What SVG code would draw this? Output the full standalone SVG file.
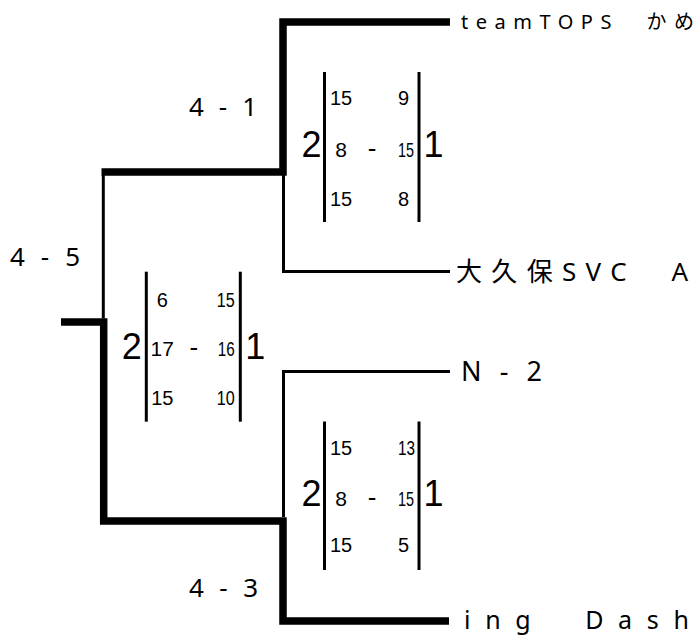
<svg xmlns="http://www.w3.org/2000/svg" width="696" height="638" viewBox="0 0 696 638">
<style>
.thick{fill:none;stroke:#000;stroke-width:7.5;stroke-linejoin:miter;stroke-linecap:butt}
.thin{fill:none;stroke:#000;stroke-width:3;stroke-linecap:butt}
.bar{stroke:#000;stroke-width:3}
.sc{font-family:"Liberation Sans",Arial,sans-serif;font-size:20px;fill:#000}
.mid{font-size:21px}
.dash{font-family:"Liberation Sans",Arial,sans-serif;font-size:26px;fill:#000}
.big{font-family:"Liberation Sans",Arial,sans-serif;font-size:36px;fill:#000}
.lbl{font-family:"Noto Sans","Noto Sans CJK JP",sans-serif;font-size:26px;fill:#000}
.name{font-family:"Noto Sans","Noto Sans CJK JP",sans-serif;fill:#000}
</style>
<rect width="696" height="638" fill="#fff"/>
<g id="connectors">
<path class="thick" d="M450,22 H283 V172 H101.5"/>
<path class="thin" d="M450,271.5 H283.5 V175"/>
<path class="thin" d="M103.3,175 V318.5"/>
<path class="thick" d="M61,322 H103.7 V521 H283 V621 H449"/>
<path class="thin" d="M450,371.5 H283.5 V517"/>
</g>
<g id="team1"><text class="name" x="461" y="29" font-size="20" textLength="233" lengthAdjust="spacing">teamTOPS　かめ</text></g>
<g id="team2"><text class="name" x="456" y="281" font-size="26" textLength="232" lengthAdjust="spacing">大久保SVC　A</text></g>
<g id="team3"><text class="name" x="461" y="381" font-size="27" textLength="81" lengthAdjust="spacing">N - 2</text></g>
<g id="team4"><text class="name" x="464" y="629" font-size="25" font-family="DejaVu Sans Mono,monospace" textLength="225" lengthAdjust="spacing">ing　Dash</text></g>
<g id="label-semi1"><text class="lbl" x="189" y="116" textLength="68" lengthAdjust="spacing">4 - 1</text></g>
<g id="label-final"><text class="lbl" x="10" y="266" textLength="70" lengthAdjust="spacing">4 - 5</text></g>
<g id="label-semi2"><text class="lbl" x="189" y="597" textLength="69" lengthAdjust="spacing">4 - 3</text></g>
<g id="score-semi1" transform="translate(324.5,72)">
<line class="bar" x1="0" y1="0" x2="0" y2="150"/><line class="bar" x1="94.5" y1="0" x2="94.5" y2="150"/>
<text class="big" x="-23" y="85">2</text><text class="big" x="99" y="85">1</text>
<text class="sc" x="16.5" y="33" text-anchor="middle">15</text><text class="sc" x="73.5" y="33">9</text>
<text class="sc mid" x="16.5" y="85" text-anchor="middle">8</text><text class="dash" x="47.5" y="85" text-anchor="middle">-</text><text class="sc mid" x="73.5" y="85" textLength="16" lengthAdjust="spacingAndGlyphs">15</text>
<text class="sc" x="16.5" y="134" text-anchor="middle">15</text><text class="sc" x="73.5" y="134">8</text>
</g>
<g id="score-final" transform="translate(146.3,271.7)">
<line class="bar" x1="0" y1="0" x2="0" y2="150"/><line class="bar" x1="94" y1="0" x2="94" y2="150"/>
<text class="big" x="-24.5" y="87">2</text><text class="big" x="99" y="87">1</text>
<text class="sc" x="16" y="35" text-anchor="middle">6</text><text class="sc" x="70.5" y="35" textLength="18" lengthAdjust="spacingAndGlyphs">15</text>
<text class="sc mid" x="16" y="84" text-anchor="middle">17</text><text class="dash" x="47.5" y="84" text-anchor="middle">-</text><text class="sc mid" x="71.5" y="84" textLength="17" lengthAdjust="spacingAndGlyphs">16</text>
<text class="sc" x="16" y="133" text-anchor="middle">15</text><text class="sc" x="70.5" y="133" textLength="18" lengthAdjust="spacingAndGlyphs">10</text>
</g>
<g id="score-semi2" transform="translate(324.5,421.5)">
<line class="bar" x1="0" y1="0" x2="0" y2="148.5"/><line class="bar" x1="94.5" y1="0" x2="94.5" y2="148.5"/>
<text class="big" x="-23" y="84">2</text><text class="big" x="99" y="84">1</text>
<text class="sc" x="16.5" y="33" text-anchor="middle">15</text><text class="sc" x="73.5" y="33" textLength="17" lengthAdjust="spacingAndGlyphs">13</text>
<text class="sc mid" x="16.5" y="84" text-anchor="middle">8</text><text class="dash" x="47.5" y="84" text-anchor="middle">-</text><text class="sc mid" x="73.5" y="84" textLength="16" lengthAdjust="spacingAndGlyphs">15</text>
<text class="sc" x="16.5" y="130" text-anchor="middle">15</text><text class="sc" x="73.5" y="130">5</text>
</g>
</svg>
